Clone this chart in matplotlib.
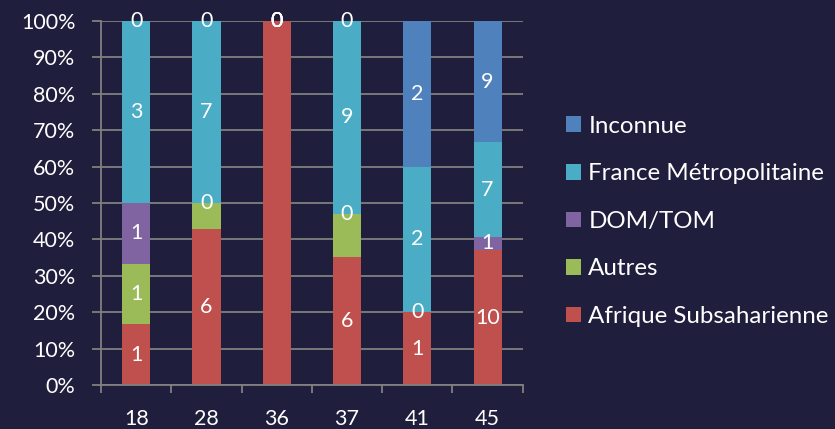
import matplotlib
matplotlib.use("Agg")
import matplotlib.pyplot as plt
import numpy as np

plt.rcParams['font.family'] = ['Lato', 'DejaVu Sans']

categories = ["18", "28", "36", "37", "41", "45"]
series_names = ["Afrique Subsaharienne", "Autres", "DOM/TOM", "France Métropolitaine", "Inconnue"]
afrique = [1, 6, 1, 6, 1, 10]
autres = [1, 1, 0, 2, 0, 0]
dom_tom = [1, 0, 0, 0, 0, 1]
france = [3, 7, 0, 9, 2, 7]
inconnue = [0, 0, 0, 0, 2, 9]
# which data labels are visible in the original (1 = shown)
show_afrique = [1, 1, 0, 1, 1, 1]
show_autres = [1, 0, 1, 0, 1, 0]
show_dom = [1, 1, 1, 1, 0, 1]
show_france = [1, 1, 1, 1, 1, 1]
show_inconnue = [1, 1, 1, 1, 1, 1]

colors = ["#C0504D", "#9BBB59", "#8064A2", "#4BACC6", "#4F81BD"]
bg = "#1f1e3c"
grid_c = "#808080"

data = np.array([afrique, autres, dom_tom, france, inconnue], dtype=float)
shows = [show_afrique, show_autres, show_dom, show_france, show_inconnue]
totals = data.sum(axis=0)
pct = data / totals * 100

fig = plt.figure(figsize=(8.35, 4.29), dpi=100, facecolor=bg)
ax = fig.add_axes([0.121, 0.1026, 0.505, 0.8484], facecolor=bg)

x = np.arange(len(categories))
bottom = np.zeros(len(categories))
handles = []
for i, name in enumerate(series_names):
    h = ax.bar(x, pct[i], 0.4, bottom=bottom, color=colors[i], label=name, zorder=3)
    handles.append(h)
    for j in range(len(categories)):
        if shows[i][j]:
            yc = bottom[j] + pct[i][j] / 2
            ax.text(x[j], yc, f"{int(data[i][j])}", color="white", ha="center",
                    va="center", fontsize=15.5, zorder=5, clip_on=False)
    bottom += pct[i]

ax.set_xlim(-0.5, len(categories) - 0.5)
ax.set_ylim(0, 100)
ax.set_yticks(np.arange(0, 101, 10))
ax.set_yticklabels([f"{v}%" for v in range(0, 101, 10)], color="white", fontsize=15.5)
ax.set_xticks(x)
ax.set_xticklabels(categories, color="white", fontsize=15.5)
ax.set_xticks(np.arange(-0.5, len(categories), 1), minor=True)
ax.tick_params(axis='x', which='major', length=0, pad=17.5)
ax.tick_params(axis='x', which='minor', length=5.5, color=grid_c, width=1.3)
ax.tick_params(axis='y', length=6.5, color=grid_c, width=1.3, pad=12)
ax.grid(axis='y', color=grid_c, linewidth=1.3, zorder=0)
for s in ["top", "right"]:
    ax.spines[s].set_visible(False)
for s in ["left", "bottom"]:
    ax.spines[s].set_color(grid_c)
    ax.spines[s].set_linewidth(1.3)
    ax.spines[s].set_zorder(4)

leg = fig.legend(handles[::-1], series_names[::-1], loc="center left",
                 bbox_to_anchor=(0.678, 0.484), frameon=False, fontsize=17.4,
                 labelcolor="white", handlelength=0.62, handleheight=0.62,
                 handletextpad=0.3, labelspacing=1.1, borderpad=0, borderaxespad=0)

fig.savefig("out.png", dpi=100, facecolor=bg)
